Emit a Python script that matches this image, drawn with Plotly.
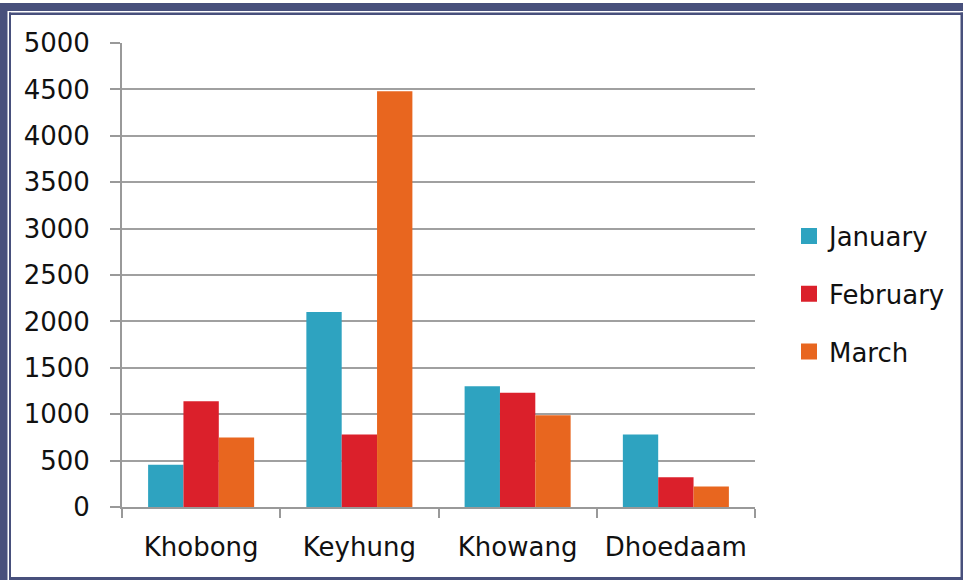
import plotly.graph_objects as go

categories = ["Khobong", "Keyhung", "Khowang", "Dhoedaam"]
january = [455, 2100, 1300, 780]
february = [1140, 780, 1230, 320]
march = [750, 4480, 990, 220]
series_names = ["January", "February", "March"]
colors = ["#2ea3c0", "#db202b", "#e8661f"]

W, H = 963, 580
L, R, T, B = 122, 755, 43, 507

fig = go.Figure()
for name, vals, col in zip(series_names, [january, february, march], colors):
    fig.add_trace(go.Bar(x=categories, y=vals, name=name, marker=dict(color=col, line=dict(width=0)),
                         showlegend=False))
for i, (name, col) in enumerate(zip(series_names, colors)):
    fig.add_trace(go.Scatter(x=[None], y=[None], mode="markers", name=name,
                             marker=dict(symbol="square", size=16, color=col),
                             legendgroup=str(i)))

def px(x):
    return (x - L) / (R - L)

def py(y):
    return (B - y) / (B - T)

border = "#48507c"
shapes = [
    dict(type="rect", xref="paper", yref="paper", x0=px(0), x1=px(963), y0=py(11), y1=py(3),
         fillcolor=border, line=dict(width=0), layer="above"),
    dict(type="rect", xref="paper", yref="paper", x0=px(9), x1=px(963), y0=py(15), y1=py(12.5),
         fillcolor=border, line=dict(width=0), layer="above"),
    dict(type="rect", xref="paper", yref="paper", x0=px(0), x1=px(7.5), y0=py(580), y1=py(3),
         fillcolor=border, line=dict(width=0), layer="above"),
    dict(type="rect", xref="paper", yref="paper", x0=px(9), x1=px(11), y0=py(580), y1=py(12.5),
         fillcolor=border, line=dict(width=0), layer="above"),
    dict(type="rect", xref="paper", yref="paper", x0=px(960.5), x1=px(963), y0=py(580), y1=py(12.5),
         fillcolor=border, line=dict(width=0), layer="above"),
    dict(type="rect", xref="paper", yref="paper", x0=px(9), x1=px(963), y0=py(580), y1=py(577),
         fillcolor=border, line=dict(width=0), layer="above"),
]

font = dict(family="DejaVu Sans", size=26, color="#111111")

fig.update_layout(
    width=W, height=H,
    margin=dict(l=L, r=W - R, t=T, b=H - B, pad=0),
    paper_bgcolor="white", plot_bgcolor="white",
    barmode="group", bargap=0.33, bargroupgap=0,
    font=font,
    showlegend=True,
    legend=dict(x=px(789), y=py(294), xanchor="left", yanchor="middle",
                font=font, tracegroupgap=21, traceorder="grouped",
                bgcolor="rgba(0,0,0,0)", borderwidth=0),
    shapes=shapes,
    xaxis=dict(showline=True, linecolor="#999999", linewidth=2, ticks="outside", ticklen=9,
               tickcolor="#999999", tickwidth=2, tickson="boundaries", showgrid=False,
               ticklabelstandoff=16, range=[-0.5, 3.5]),
    yaxis=dict(range=[0, 5000], dtick=500, showline=True, linecolor="#999999", linewidth=2,
               ticks="outside", ticklen=10, tickcolor="#999999", tickwidth=2,
               showgrid=True, gridcolor="#a0a0a0", gridwidth=2, zeroline=False,
               ticklabelstandoff=15, tickformat="d"),
)

fig.write_html("out.html")
